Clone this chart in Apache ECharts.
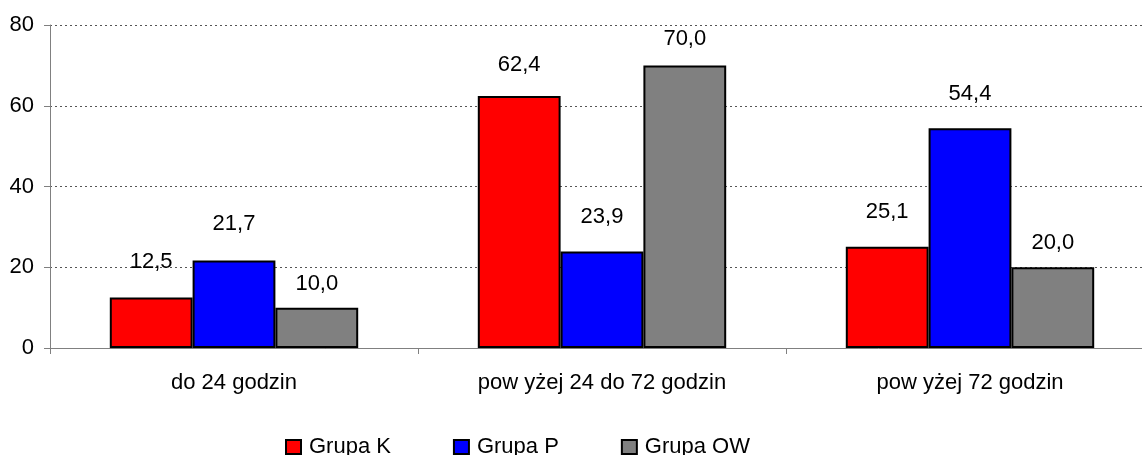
<!DOCTYPE html>
<html><head><meta charset="utf-8">
<script src="https://cdn.jsdelivr.net/npm/echarts@6/dist/echarts.min.js"></script>
<style>html,body{margin:0;padding:0;background:#fff;overflow:hidden;width:1142px;height:455px}#c{width:1160px;height:455px}</style>
</head><body><div id="c"></div>
<script>
const categories = ['do 24 godzin', 'pow yżej 24 do 72 godzin', 'pow yżej 72 godzin'];
const seriesNames = ['Grupa K', 'Grupa P', 'Grupa OW'];
const grupaK = [12.5, 62.4, 25.1];
const grupaP = [21.7, 23.9, 54.4];
const grupaOW = [10.0, 70.0, 20.0];
const yTicks = [0, 20, 40, 60, 80];

const colors = ['#FF0000', '#0000FF', '#808080'];
const labelDistances = [[25, 20, 24], [25, 24, 23], [13, 15, 13]];
const FONT = 'Arial, "Liberation Sans", sans-serif';
const chart = echarts.init(document.getElementById('c'));
const values = [grupaK, grupaP, grupaOW];
chart.setOption({
  animation: false,
  textStyle: {fontFamily: FONT},
  grid: {left: 50, top: 25, width: 1104, height: 323},
  legend: {
    left: 280, top: 431, itemGap: 62, itemWidth: 15, itemHeight: 14,
    icon: 'rect',
    textStyle: {fontSize: 22, color: '#000', fontFamily: FONT, padding: [0, 0, 0, 3]},
    data: seriesNames.map((n, i) => ({name: n, itemStyle: {color: colors[i], borderColor: '#000', borderWidth: 2}}))
  },
  xAxis: {
    type: 'category', data: categories,
    axisLine: {lineStyle: {color: '#808080', width: 1}},
    axisTick: {show: true, length: 6, interval: 0, lineStyle: {color: '#808080'}},
    axisLabel: {fontSize: 22, color: '#000', margin: 24, fontFamily: FONT}
  },
  yAxis: {
    type: 'value', min: yTicks[0], max: yTicks[yTicks.length - 1], interval: 20,
    axisLine: {show: true, lineStyle: {color: '#808080', width: 1}},
    axisTick: {show: true, length: 6, lineStyle: {color: '#808080'}},
    axisLabel: {fontSize: 22, color: '#000', margin: 16, fontFamily: FONT},
    splitLine: {show: true, lineStyle: {color: '#555', type: [2, 3], width: 1}}
  },
  series: seriesNames.map((n, i) => ({
    name: n, type: 'bar',
    data: values[i].map((v, j) => ({value: v, label: {distance: labelDistances[i][j]}})),
    barGap: '0%', barCategoryGap: '32.5%',
    itemStyle: {color: colors[i], borderColor: '#000', borderWidth: 2},
    label: {
      show: true, position: 'top', fontSize: 22, color: '#000', fontFamily: FONT,
      formatter: p => p.value.toFixed(1).replace('.', ',')
    }
  }))
});
</script></body></html>
